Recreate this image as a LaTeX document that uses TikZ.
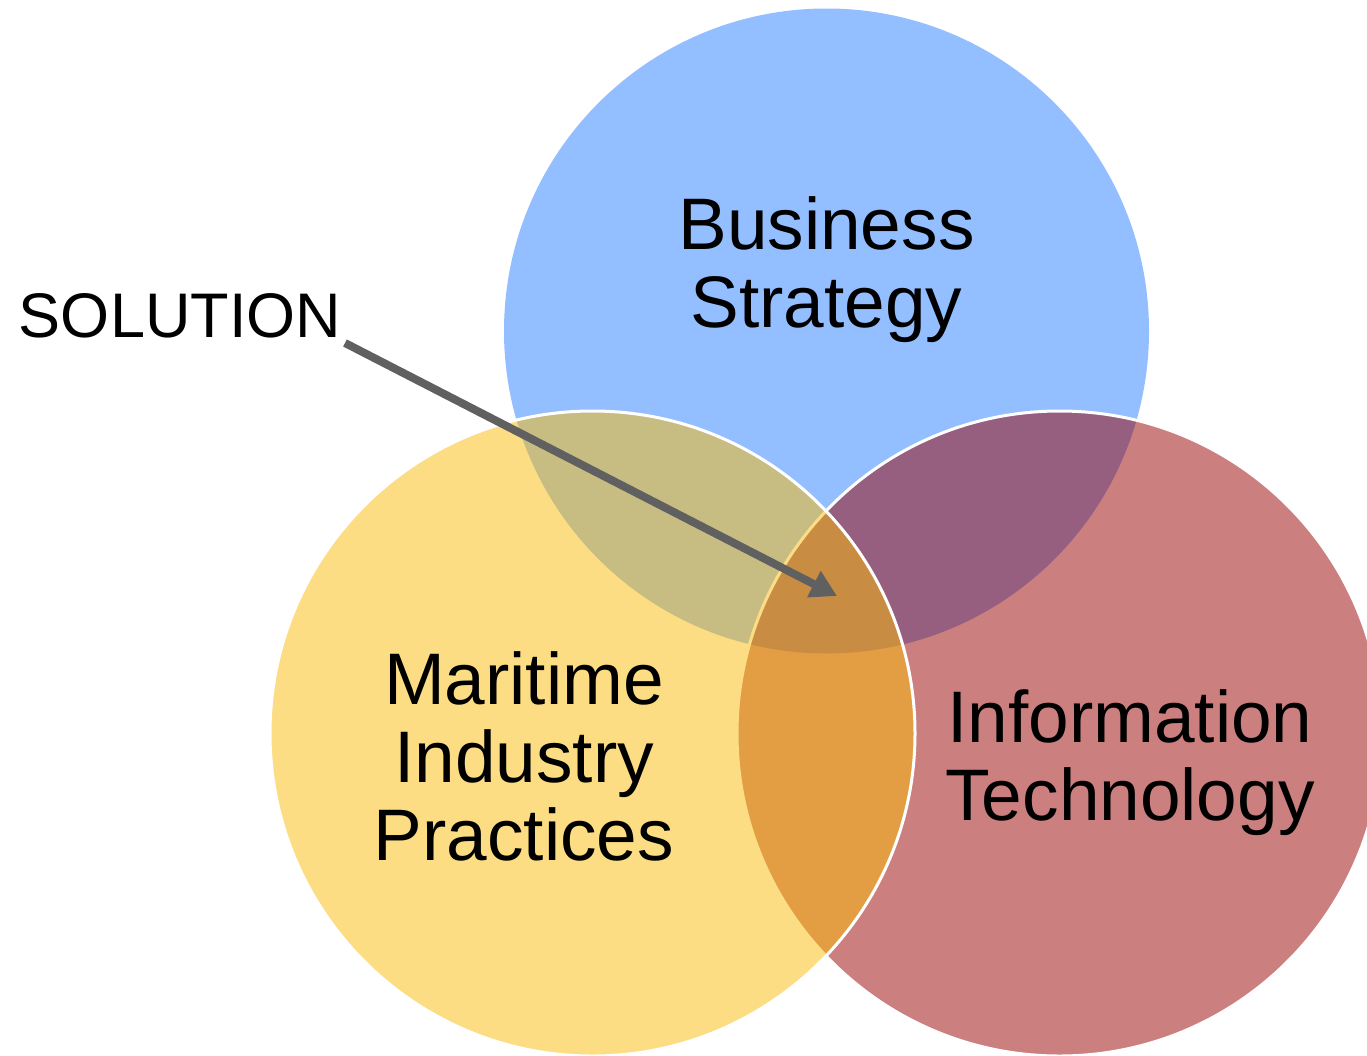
\documentclass[tikz,border=0pt]{standalone}
\usepackage{fontspec}
\setmainfont{Liberation Sans}
\usetikzlibrary{arrows.meta}
\definecolor{bsblue}{RGB}{41,127,255}
\definecolor{mpyellow}{RGB}{251,189,9}
\definecolor{itred}{RGB}{153,0,0}
\definecolor{arrowgray}{RGB}{96,96,96}
\tikzset{
  venn/.style={fill opacity=0.5, draw=white, line width=3pt},
  biglabel/.style={font=\fontsize{73}{78}\selectfont, align=center, inner sep=0pt, text=black},
  sollabel/.style={font=\fontsize{63}{70}\selectfont, inner sep=0pt, text=black, anchor=base},
  pointer/.style={draw=arrowgray, line width=8pt, -{Triangle[length=26pt,width=28pt]}}
}
\begin{document}
\begin{tikzpicture}[x=1pt,y=-1pt]
\clip (0,0) rectangle (1367,1055);
\fill[white] (0,0) rectangle (1367,1055);
% circles
\fill[bsblue, fill opacity=0.5] (826.5,331) circle[radius=322.5];
\path[venn, fill=itred] (1059.5,733.5) circle[radius=322.5];
\path[venn, fill=mpyellow] (592.5,733.5) circle[radius=322.5];
% labels
\node[biglabel] (bs) at (826.5,270) {Business\\Strategy};
\node[biglabel] (mip) at (524,756) {Maritime\\Industry\\Practices};
\node[biglabel] (it) at (1130,763) {Information\\Technology};
\node[sollabel] (sol) at (180,337) {SOLUTION};
\coordinate (tip) at (837,596);
\coordinate (start) at (345,343);
\draw[pointer] (start) -- (tip);
\end{tikzpicture}
\end{document}
